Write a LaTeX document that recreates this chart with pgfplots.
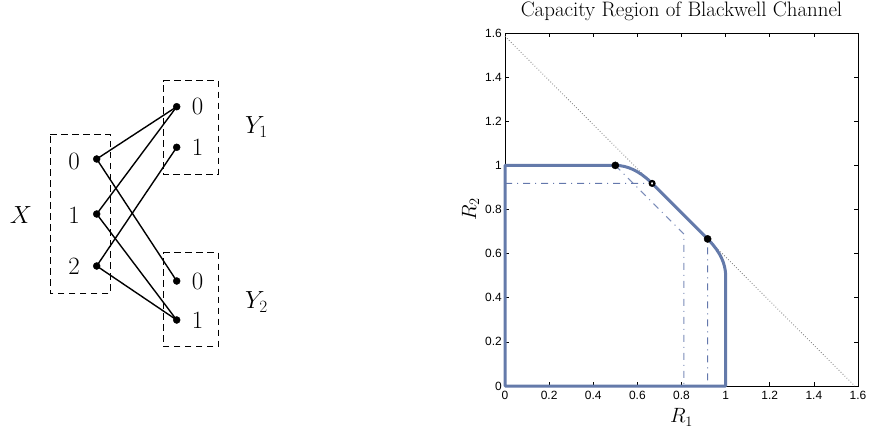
\documentclass[border=0pt]{standalone}
\usepackage{pgfplots}
\pgfplotsset{compat=1.18}
\usepackage{fontspec}
\newfontfamily\helv{Liberation Sans}
\definecolor{bluereg}{RGB}{100,122,170}
\definecolor{bluedd}{RGB}{100,120,172}
\begin{document}
\begin{tikzpicture}
\useasboundingbox (0bp,0bp) rectangle (878bp,-431bp);
% ---------- left: channel diagram ----------
\begin{axis}[at={(0bp,-431bp)}, anchor=south west, scale only axis,
  width=300bp, height=431bp, xmin=0, xmax=300, ymin=-431, ymax=0,
  axis lines=none, clip=false]
\addplot[black, line width=1bp, dash pattern=on 6.5bp off 4.5bp] coordinates {(50,-135) (110,-135) (110,-293.3) (50,-293.3) (50,-135)};
\addplot[black, line width=1bp, dash pattern=on 6.5bp off 4.5bp] coordinates {(163.3,-80.7) (218.3,-80.7) (218.3,-174.3) (163.3,-174.3) (163.3,-80.7)};
\addplot[black, line width=1bp, dash pattern=on 6.5bp off 4.5bp] coordinates {(163.3,-252.7) (218.3,-252.7) (218.3,-346.7) (163.3,-346.7) (163.3,-252.7)};
\addplot[black, line width=1.4bp] coordinates {(176.7,-106.7) (96.7,-159) (176.7,-281)};
\addplot[black, line width=1.4bp] coordinates {(176.7,-106.7) (96.7,-214) (176.7,-320)};
\addplot[black, line width=1.4bp] coordinates {(176.7,-147.3) (96.7,-266) (176.7,-320)};
\addplot[only marks, mark=*, mark size=3.5bp, black] coordinates {(96.7,-159) (96.7,-214) (96.7,-266) (176.7,-106.7) (176.7,-147.3) (176.7,-281) (176.7,-320)};
\begin{scope}[every node/.style={font=\fontsize{25}{25}\selectfont, inner sep=0pt}]
\node[anchor=base] at (axis cs:21,-223.3) {$X$};
\node at (axis cs:74,-161.5) {0};
\node at (axis cs:74,-215) {1};
\node at (axis cs:74,-266.7) {2};
\node at (axis cs:197.5,-106.7) {0};
\node at (axis cs:197.5,-147) {1};
\node at (axis cs:197.5,-281.7) {0};
\node at (axis cs:197.5,-320.3) {1};
\node[anchor=base west] at (axis cs:245,-133.3) {$Y_1$};
\node[anchor=base west] at (axis cs:245,-308.3) {$Y_2$};
\end{scope}
\end{axis}
% ---------- right: capacity region ----------
\begin{axis}[at={(505bp,-386bp)}, anchor=south west, scale only axis,
  width=353bp, height=353bp, xmin=0, xmax=1.6, ymin=0, ymax=1.6,
  xtick={0,0.2,0.4,0.6,0.8,1,1.2,1.4,1.6},
  ytick={0,0.2,0.4,0.6,0.8,1,1.2,1.4,1.6},
  xticklabels={0,0.2,0.4,0.6,0.8,1,1.2,1.4,1.6},
  yticklabels={0,0.2,0.4,0.6,0.8,1,1.2,1.4,1.6},
  /pgf/number format/assume math mode=true,
  tick align=inside, xtick pos=both, ytick pos=both,
  major tick length=4bp,
  axis line style={line width=0.9bp}, every tick/.style={line width=0.7bp, black},
  ticklabel style={font=\helv\fontsize{12}{12}\selectfont},
  xticklabel style={inner sep=1bp, yshift=-4bp},
  yticklabel style={inner sep=1bp, xshift=-2bp},
  title={Capacity Region of Blackwell Channel},
  title style={font=\fontsize{21}{21}\selectfont, at={(axis description cs:0.5,1.031)}, anchor=base, inner sep=0pt},
  xlabel={$R_1$}, ylabel={$R_2$},
  xlabel style={font=\fontsize{20.5}{20.5}\selectfont, at={(axis description cs:0.5,-0.1048)}, anchor=base, inner sep=0pt},
  ylabel style={font=\fontsize{20.5}{20.5}\selectfont, at={(axis description cs:-0.082,0.5)}, anchor=base, rotate=0, inner sep=0pt},
  clip=false]
\addplot[gray, line width=0.8bp, dotted] coordinates {(0,1.585) (1.585,0)};
\addplot[bluedd!85, line width=1bp, dash pattern=on 7bp off 5bp on 1bp off 5bp] coordinates {(0.5,1) (0.811,0.689) (0.811,0)};
\addplot[bluedd, line width=1bp, dash pattern=on 7bp off 5bp on 1bp off 5bp] coordinates {(0,0.918) (0.6667,0.918) (0.918,0.6667) (0.918,0)};
\addplot[bluereg, line width=3bp, line join=round] coordinates {
 (0,0) (0,1) (0.5,1) (0.51,0.99971) (0.52,0.99885) (0.54,0.99538) (0.56,0.98959)
 (0.58,0.98146) (0.60,0.97095) (0.62,0.95804) (0.64,0.94268) (0.65,0.93407) (0.66,0.92481)
 (0.6667,0.9183) (0.9183,0.6667) (0.92481,0.66) (0.93407,0.65) (0.94268,0.64) (0.95804,0.62)
 (0.97095,0.60) (0.98146,0.58) (0.98959,0.56) (0.99538,0.54) (0.99885,0.52) (0.99971,0.51)
 (1,0.5) (1,0) (0,0)} -- cycle;
\addplot[only marks, mark=*, mark size=3.6bp, black] coordinates {(0.5,1) (0.9183,0.6667)};
\addplot[only marks, mark=*, mark size=2.4bp, draw=black, fill=white, line width=2.2bp] coordinates {(0.6667,0.9183)};
\end{axis}
\end{tikzpicture}
\end{document}
